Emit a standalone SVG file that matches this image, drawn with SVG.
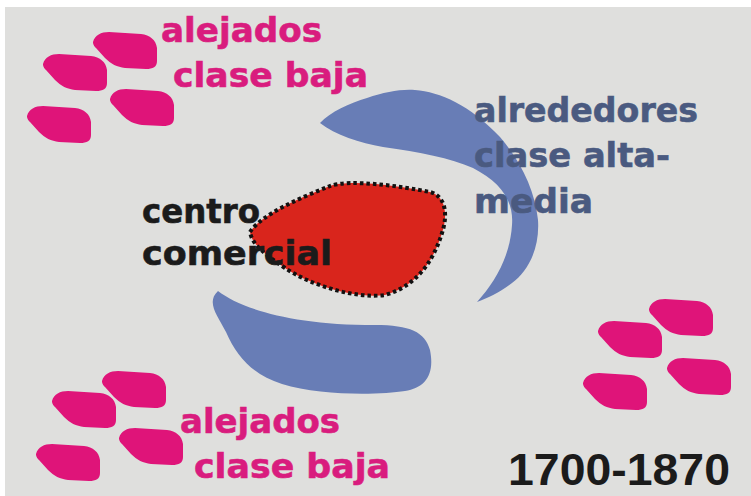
<svg xmlns="http://www.w3.org/2000/svg" width="751" height="496" viewBox="0 0 751 496">
  <defs>
    <style>
      .pink { fill: #df1479; }
      .blue { fill: #687db6; }
      .t { font-family: "DejaVu Sans", "Liberation Sans", sans-serif; font-weight: bold; font-size: 34px; stroke-width: 0.6px; }
      .tp { fill: #d91c7e; stroke: #d91c7e; }
      .tb { fill: #4a5a80; stroke: #4a5a80; }
      .tk { fill: #1b1b1b; stroke: #1b1b1b; }
    </style>
    <path id="pebble" d="M0,11 C2,4 8,1 16,1 L48,3 C57,4 63,9 64,17 L64,30 C64,36 60,38 53,38 L32,37 C24,36 18,33 12,27 L3,17 C0,14 0,12 0,11 Z"/>
  </defs>

  <rect x="0" y="0" width="751" height="496" fill="#ffffff"/>
  <rect x="5" y="7" width="746" height="489" fill="#dfdfdd"/>

  <g id="cluster-top-left" class="pink">
    <use href="#pebble" x="93" y="31"/>
    <use href="#pebble" x="43" y="53"/>
    <use href="#pebble" x="110" y="88"/>
    <use href="#pebble" x="27" y="105"/>
  </g>
  <g id="cluster-bottom-left" class="pink">
    <use href="#pebble" x="102" y="370"/>
    <use href="#pebble" x="52" y="390"/>
    <use href="#pebble" x="119" y="427"/>
    <use href="#pebble" x="36" y="443"/>
  </g>
  <g id="cluster-right" class="pink">
    <use href="#pebble" x="649" y="298"/>
    <use href="#pebble" x="598" y="320"/>
    <use href="#pebble" x="667" y="357"/>
    <use href="#pebble" x="583" y="372"/>
  </g>

  <g id="alrededores-upper">
    <path class="blue" d="M320,123 C330,112 350,103 367,98 C385,92 400,89 415,90 C440,92 470,105 500,137 C520,160 535,190 538,220 C540,250 527,272 512,283 C500,292 488,298 477,302 C495,282 510,257 512,225 C514,200 500,182 473,168 C450,158 420,152 383,147 C360,143 335,135 320,123 Z"/>
  </g>
  <g id="alrededores-lower">
    <path class="blue" d="M218,291 C240,308 290,325 375,325 C410,325 425,332 430,350 C435,375 425,388 405,391 C380,395 320,396 282,384 C252,374 237,357 226,332 C217,315 206,302 218,291 Z"/>
  </g>

  <g id="centro">
    <path d="M250,232 C262,214 300,198 330,186 C350,179 400,186 430,192 C446,196 448,215 442,233 C435,256 420,285 385,295 C355,299 310,285 285,268 C266,255 252,245 250,232 Z" fill="#d9251c" stroke="#111111" stroke-width="4" stroke-dasharray="3.5 3"/>
  </g>

  <g id="labels">
    <text class="t tp" x="161" y="42" textLength="161" lengthAdjust="spacingAndGlyphs">alejados</text>
    <text class="t tp" x="173" y="87" textLength="195" lengthAdjust="spacingAndGlyphs">clase baja</text>
    <text class="t tb" x="474" y="122" textLength="224" lengthAdjust="spacingAndGlyphs">alrededores</text>
    <text class="t tb" x="474" y="167" textLength="196" lengthAdjust="spacingAndGlyphs">clase alta-</text>
    <text class="t tb" x="474" y="213" textLength="119" lengthAdjust="spacingAndGlyphs">media</text>
    <text class="t tk" x="142" y="223" textLength="118" lengthAdjust="spacingAndGlyphs">centro</text>
    <text class="t tk" x="142" y="265" textLength="190" lengthAdjust="spacingAndGlyphs">comercial</text>
    <text class="t tp" x="180" y="433" textLength="160" lengthAdjust="spacingAndGlyphs">alejados</text>
    <text class="t tp" x="194" y="478" textLength="196" lengthAdjust="spacingAndGlyphs">clase baja</text>
    <text x="508" y="485" textLength="222" lengthAdjust="spacingAndGlyphs" font-family="'Liberation Sans', Arial, sans-serif" font-weight="bold" font-size="44" fill="#1b1b1b">1700-1870</text>
  </g>
</svg>
